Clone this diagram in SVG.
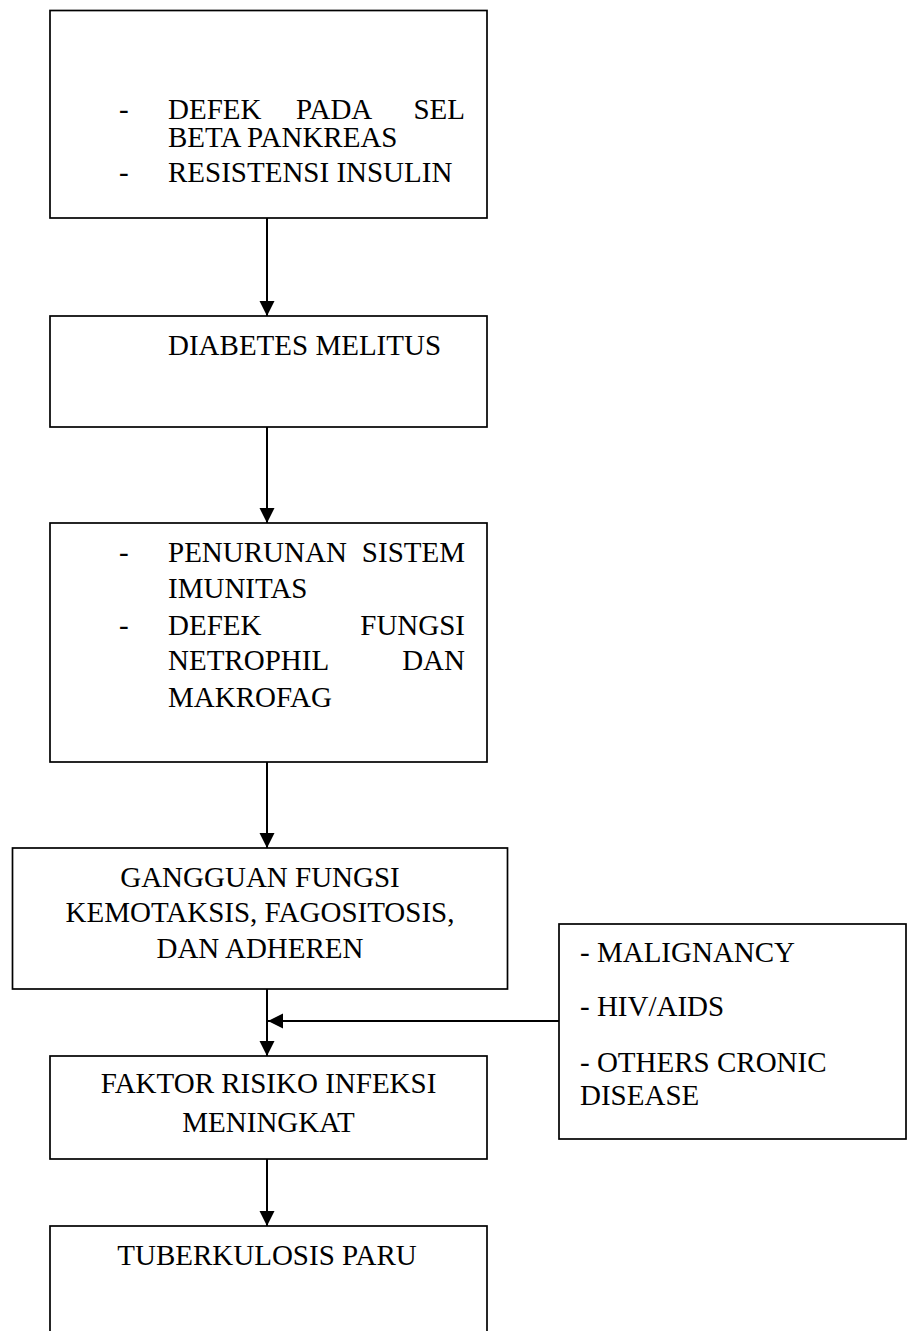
<svg xmlns="http://www.w3.org/2000/svg" width="907" height="1331" viewBox="0 0 907 1331">
<style>
.box{fill:#fff;stroke:#000;stroke-width:1.7}
.t{font-family:"Liberation Serif","Times New Roman",serif;font-size:29px;fill:#000}
.c{text-anchor:middle}
.e{text-anchor:end}
.con{stroke:#000;stroke-width:2;fill:none}
</style>
<defs>
<marker id="ah" markerUnits="userSpaceOnUse" markerWidth="16" markerHeight="16" refX="15" refY="8" orient="auto">
<path d="M0,0.5 L15,8 L0,15.5 z" fill="#000"/>
</marker>
</defs>
<rect width="907" height="1331" fill="#fff"/>
<g id="connectors">
<line class="con" x1="267" y1="218" x2="267" y2="316" marker-end="url(#ah)"/>
<line class="con" x1="267" y1="427" x2="267" y2="523" marker-end="url(#ah)"/>
<line class="con" x1="267" y1="762" x2="267" y2="848" marker-end="url(#ah)"/>
<line class="con" x1="267" y1="989" x2="267" y2="1056" marker-end="url(#ah)"/>
<line class="con" x1="559" y1="1021" x2="268" y2="1021" marker-end="url(#ah)"/>
<line class="con" x1="267" y1="1159" x2="267" y2="1226" marker-end="url(#ah)"/>
</g>
<g id="node-defek-sel-beta">
<rect class="box" x="50" y="10.5" width="437" height="207.5"/>
<text class="t" x="119" y="119">-</text>
<text class="t" x="168" y="119">DEFEK</text>
<text class="t" x="296" y="119">PADA</text>
<text class="t e" x="465" y="119">SEL</text>
<text class="t" x="168" y="147">BETA PANKREAS</text>
<text class="t" x="119" y="182">-</text>
<text class="t" x="168" y="182">RESISTENSI INSULIN</text>
</g>
<g id="node-diabetes">
<rect class="box" x="50" y="316" width="437" height="111"/>
<text class="t" x="168" y="355">DIABETES MELITUS</text>
</g>
<g id="node-imunitas">
<rect class="box" x="50" y="523" width="437" height="239"/>
<text class="t" x="119" y="562">-</text>
<text class="t" x="168" y="562">PENURUNAN</text>
<text class="t e" x="465" y="562">SISTEM</text>
<text class="t" x="168" y="598">IMUNITAS</text>
<text class="t" x="119" y="635">-</text>
<text class="t" x="168" y="635">DEFEK</text>
<text class="t e" x="465" y="635">FUNGSI</text>
<text class="t" x="168" y="670">NETROPHIL</text>
<text class="t e" x="465" y="670">DAN</text>
<text class="t" x="168" y="707">MAKROFAG</text>
</g>
<g id="node-gangguan">
<rect class="box" x="12.5" y="848" width="495" height="141"/>
<text class="t c" x="260" y="887">GANGGUAN FUNGSI</text>
<text class="t c" x="260" y="922">KEMOTAKSIS, FAGOSITOSIS,</text>
<text class="t c" x="260" y="958">DAN ADHEREN</text>
</g>
<g id="node-others">
<rect class="box" x="559" y="924" width="347" height="215"/>
<text class="t" x="580" y="962">- MALIGNANCY</text>
<text class="t" x="580" y="1016">- HIV/AIDS</text>
<text class="t" x="580" y="1072">- OTHERS CRONIC</text>
<text class="t" x="580" y="1105">DISEASE</text>
</g>
<g id="node-faktor">
<rect class="box" x="50" y="1056" width="437" height="103"/>
<text class="t c" x="268.5" y="1093">FAKTOR RISIKO INFEKSI</text>
<text class="t c" x="268.5" y="1132">MENINGKAT</text>
</g>
<g id="node-tb">
<rect class="box" x="50" y="1226" width="437" height="130"/>
<text class="t c" x="267" y="1265">TUBERKULOSIS PARU</text>
</g>
</svg>
